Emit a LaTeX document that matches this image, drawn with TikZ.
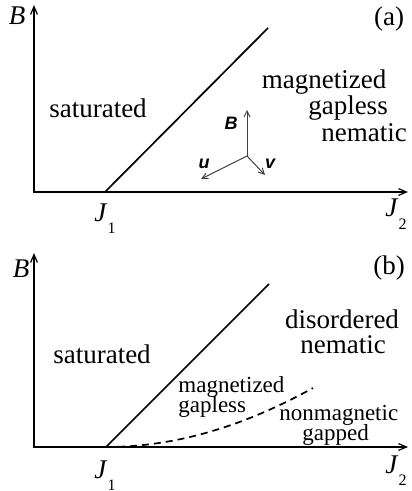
\documentclass[tikz,border=0pt]{standalone}
\usepackage{fontspec}
\setmainfont{Liberation Serif}
\newfontfamily\vecfont{Liberation Sans}
\usepackage{tikz}
\usetikzlibrary{arrows.meta}

\newcommand\Jsub[1]{\textit{J}\raisebox{-6pt}{\fontsize{8}{8}\selectfont #1}}

\begin{document}
\begin{tikzpicture}[x=0.5pt,y=-0.5pt,
  lbl/.style={inner sep=0pt,anchor=base,font=\fontsize{13.5}{15}\selectfont},
  lblsm/.style={inner sep=0pt,anchor=base west,font=\fontsize{11.5}{12}\selectfont},
  axis/.style={line width=1.3pt,
    {Straight Barb[length=4pt,width=3.4pt,line width=0.6pt]}-{Straight Barb[length=4pt,width=3.4pt,line width=0.6pt]}},
  border/.style={line width=0.85pt},
  xover/.style={border,dash pattern=on 3.5pt off 2.5pt},
  vec/.style={black!75,line width=0.5pt,-{Straight Barb[length=3pt,width=3pt]}},
  veclbl/.style={inner sep=0pt,font=\vecfont\bfseries\itshape\fontsize{9}{9}\selectfont}]
  \useasboundingbox (0,0) rectangle (411,491);
  % (a) positions in pixels of the 411x491 frame
  \coordinate (topA) at (34,5);
  \coordinate (endA) at (408,192);
  \draw[axis] (topA) |- (endA);
  \coordinate (j1A) at (105,192);
  \coordinate (lineA) at (268,28);
  \draw[border] (j1A) -- (lineA);
  \node[lbl] (bA) at (17,25) {\textit{B}};
  \node[lbl] (tagA) at (389,26) {(a)};
  \node[lbl] (j1labA) at (105,221) {\Jsub{1}};
  \node[lbl] (j2labA) at (396,217) {\Jsub{2}};
  \node[lbl] (satA) at (98,118) {saturated};
  \node[lbl] (magA) at (324,89) {magnetized};
  \node[lbl] (gapA) at (348,115) {gapless};
  \node[lbl] (nemA) at (364,142) {nematic};
  \coordinate (tri) at (247,156);
  \coordinate (triB) at (247,110);
  \coordinate (triU) at (201,179);
  \coordinate (triV) at (265,175);
  \foreach \t in {triB,triU,triV}
    \draw[vec] (tri) -- (\t);
  \node[veclbl] (labB) at (231,123) {B};
  \node[veclbl] (labU) at (204,164) {u};
  \node[veclbl] (labV) at (270,164) {v};
  % (b)
  \coordinate (topB) at (34,253);
  \coordinate (endB) at (408,447);
  \draw[axis] (topB) |- (endB);
  \coordinate (j1B) at (106,447);
  \coordinate (lineB) at (269,284);
  \coordinate (gapEnd) at (313,388);
  \draw[border] (j1B) -- (lineB);
  \draw[xover] (j1B) .. controls (185,447) and (255,420) .. (gapEnd);
  \node[lbl] (bB) at (21,278) {\textit{B}};
  \node[lbl] (tagB) at (389,274) {(b)};
  \node[lbl] (j1labB) at (105,478) {\Jsub{1}};
  \node[lbl] (j2labB) at (396,473) {\Jsub{2}};
  \node[lbl] (satB) at (102,363) {saturated};
  \node[lbl] (disB) at (342,328) {disordered};
  \node[lbl] (nemB) at (343,353) {nematic};
  \node[lblsm] (magB) at (178,392) {magnetized};
  \node[lblsm] (gapB) at (178,412) {gapless};
  \node[lblsm] (nonB) at (279,420) {nonmagnetic};
  \node[lblsm] (gappedB) at (302,440) {gapped};
\end{tikzpicture}
\end{document}
